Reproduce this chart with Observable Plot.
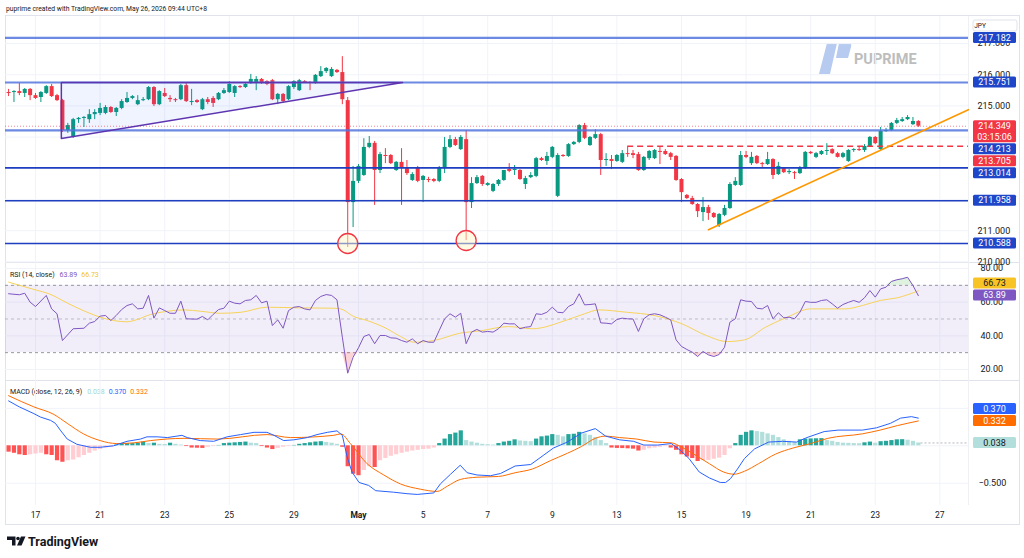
<!DOCTYPE html>
<html>
<head>
<meta charset="utf-8">
<script src="https://cdn.jsdelivr.net/npm/d3@7"></script>
<script src="https://cdn.jsdelivr.net/npm/@observablehq/plot@0.6"></script>
<style>
html,body{margin:0;padding:0;background:#fff;}
#wrap{position:relative;width:1024px;height:558px;overflow:hidden;font-family:Roboto,"Liberation Sans",Arial,sans-serif;}
</style>
</head>
<body>
<div id="wrap"></div>
<script>
// ---------------- DATA ----------------
const firstBar = -5; // bar index of the first candle (4h bars)
const open = [
215.43,215.43,215.46,215.40,215.53,215.33,215.27,215.40,215.62,215.33,
215.17,214.21,213.99,214.56,214.60,214.56,214.72,214.76,214.76,214.95,
214.79,214.92,215.11,215.24,215.04,215.17,215.20,215.59,215.04,215.40,
215.24,215.20,215.20,215.65,215.11,215.17,214.88,215.20,215.24,215.20,
215.40,215.43,215.40,215.62,215.59,215.72,215.72,215.85,215.78,215.81,
215.20,215.37,215.20,215.59,215.49,215.78,215.75,215.72,215.94,216.10,
215.94,216.14,216.07,215.17,211.90,212.58,212.77,213.67,213.80,212.93,
213.41,213.41,212.93,213.19,212.99,212.61,213.02,212.61,212.64,212.64,
212.58,212.99,213.67,213.92,213.60,213.92,211.90,212.51,212.74,212.45,
212.26,212.48,212.61,212.96,212.93,212.93,212.48,212.70,212.74,213.31,
213.22,213.35,212.10,213.41,213.38,213.76,213.83,214.37,213.73,213.96,
214.08,213.25,213.28,213.22,213.19,213.47,213.47,213.44,212.93,213.31,
213.31,213.54,213.54,213.47,213.38,212.64,212.13,212.03,211.84,211.58,
211.74,211.55,211.16,211.49,211.71,212.45,212.45,213.41,213.15,213.38,
213.15,213.12,213.28,212.80,212.99,212.86,212.86,212.83,212.99,213.51,
213.35,213.44,213.54,213.60,213.47,213.35,213.22,213.57,213.60,213.57,
213.70,213.99,213.60,214.18,214.21,214.44,214.50,214.56,214.40,214.50];
const high = [
215.53,215.49,215.72,215.56,215.56,215.40,215.46,215.65,215.69,215.37,
215.21,214.44,214.60,214.63,214.66,214.88,214.88,215.08,215.01,214.98,
214.95,215.20,215.43,215.33,215.33,215.27,215.62,215.62,215.49,215.56,
215.33,215.24,215.69,215.72,215.53,215.20,215.24,215.27,215.30,215.43,
215.56,215.78,215.65,215.65,215.72,216.01,215.94,215.88,215.81,215.85,
215.40,215.40,215.65,215.81,215.85,215.81,215.78,216.01,216.26,216.23,
216.23,216.17,216.58,215.27,213.06,213.12,213.95,214.02,213.86,213.51,
213.63,213.44,213.22,213.63,213.25,212.86,213.06,212.77,212.71,212.67,
213.06,213.99,214.05,213.99,214.05,214.21,212.70,212.77,212.77,212.54,
212.51,212.64,212.93,213.15,213.09,212.96,212.74,212.86,213.35,213.35,
213.51,213.70,213.47,213.44,213.79,213.86,214.40,214.44,214.02,214.24,
214.12,213.47,213.41,213.44,213.57,213.67,213.57,213.51,213.38,213.57,
213.60,213.67,213.60,213.51,213.41,212.67,212.16,212.10,211.87,212.06,
211.81,211.58,211.55,211.81,212.54,212.70,213.54,213.54,213.51,213.41,
213.19,213.51,213.31,213.19,213.02,212.96,212.90,213.06,213.54,213.54,
213.51,213.57,213.79,213.63,213.51,213.51,213.60,213.63,213.67,213.76,
214.02,214.02,214.31,214.28,214.47,214.60,214.63,214.69,214.63,214.53];
const low = [
215.30,215.11,215.33,215.27,215.17,215.21,215.11,215.37,215.27,215.14,
214.15,214.12,213.96,214.44,214.31,214.44,214.56,214.69,214.72,214.76,
214.66,214.88,215.08,215.20,215.01,215.14,215.17,214.98,215.01,215.27,
215.11,215.11,215.17,215.11,215.01,215.08,214.85,215.04,214.95,215.17,
215.37,215.40,215.27,215.56,215.56,215.69,215.49,215.69,215.65,215.17,
215.04,215.08,215.17,215.53,215.46,215.72,215.49,215.69,215.91,216.04,
215.91,216.04,215.04,210.46,211.10,212.51,212.74,213.63,211.81,212.83,
213.15,213.12,212.90,211.81,212.77,212.58,212.54,211.90,212.54,212.54,
212.54,212.83,213.63,213.70,213.57,210.68,211.71,212.48,212.42,212.42,
212.22,212.42,212.58,212.86,212.77,212.61,212.32,212.67,212.70,213.22,
213.09,213.31,212.06,213.35,213.35,213.73,213.79,213.92,213.70,213.92,
212.77,213.06,212.96,213.19,213.15,213.35,213.31,212.90,212.90,213.25,
213.28,213.12,213.41,213.25,212.58,211.90,212.00,211.81,211.42,211.29,
211.33,211.39,211.10,211.45,211.68,212.42,212.42,213.31,213.09,213.12,
212.99,213.09,212.64,212.77,212.83,212.80,212.64,212.80,212.96,213.44,
213.31,213.41,213.41,213.44,213.33,213.31,213.19,213.51,213.54,213.51,
213.67,213.76,213.57,214.15,214.18,214.40,214.47,214.53,214.37,214.31];
const close = [
215.40,215.46,215.40,215.53,215.33,215.24,215.43,215.62,215.30,215.17,
214.21,214.37,214.56,214.60,214.63,214.72,214.79,214.92,214.95,214.79,
214.92,215.14,215.24,215.30,215.17,215.20,215.59,215.04,215.46,215.30,
215.20,215.17,215.65,215.14,215.14,215.11,215.20,215.11,215.08,215.40,
215.49,215.69,215.62,215.59,215.69,215.85,215.85,215.72,215.69,215.20,
215.37,215.14,215.62,215.78,215.81,215.75,215.72,215.98,216.10,216.20,
216.17,216.07,215.20,211.90,212.58,213.06,213.67,213.80,212.93,213.44,
213.38,213.15,213.19,212.99,212.83,212.80,212.58,212.74,212.61,212.58,
212.99,213.67,213.92,213.73,213.99,211.90,212.51,212.70,212.48,212.51,
212.48,212.61,212.93,212.90,212.96,212.64,212.67,212.77,213.31,213.25,
213.38,213.67,213.41,213.38,213.76,213.83,214.37,213.96,213.99,214.08,
213.25,213.28,213.22,213.41,213.47,213.44,213.41,212.93,213.35,213.54,
213.57,213.51,213.44,213.35,212.61,212.22,212.03,211.84,211.61,211.74,
211.55,211.42,211.52,211.71,212.48,212.58,213.41,213.35,213.35,213.15,
213.12,213.28,212.77,213.06,212.86,212.90,212.83,212.99,213.51,213.47,
213.47,213.54,213.57,213.47,213.35,213.47,213.57,213.60,213.57,213.70,
213.99,213.79,214.18,214.21,214.44,214.53,214.56,214.63,214.50,214.349];

// x-axis: bar index where each date label sits
const tickBars   = [0,12,24,36,48,60,72,84,96,108,120,132,144,156,168];
const tickLabels = ["17","21","23","25","29","May","5","7","9","13","15","19","21","23","27"];

// drawn price levels
const levelsStrong = [217.182, 215.751, 214.213];
const levelsThin   = [213.014, 211.958, 210.588];
const lastPrice = 214.349;
const countdown = "03:15:06";
const dashedLevel = 213.705;
const dashedFromBar = 110;
const triangle = [[4.8, 215.751], [4.8, 213.955], [68.2, 215.751]];
const trendLine = [[125, 211.03], [173.3, 214.88]];
const circles = [[58, 210.588], [80, 210.684]];
const priceGrid = [210, 211, 212, 213, 214, 215, 216, 217];
const priceTickLabels = [210, 211, 215, 216, 217];

// RSI (14, close) and its moving average: [bar, value]
const rsi = [[-5,65.0],[-3,64.4],[-2,65.3],[-1,60.0],[0,57.4],[2,64.0],[3,56.0],[4,53.1],[5,37.2],[7,44.2],[9,44.5],[10,47.5],[11,48.5],[12,51.7],[13,52.1],[14,49.1],[15,52.1],[16,55.6],[17,58.0],[18,59.0],[19,56.0],[20,56.4],[21,64.0],[22,50.5],[23,56.6],[24,55.0],[25,53.4],[26,53.4],[27,60.6],[28,50.1],[29,50.0],[30,49.9],[31,51.5],[32,49.5],[33,52.7],[34,55.6],[35,56.4],[36,60.6],[37,59.4],[38,59.0],[39,61.0],[40,61.4],[41,64.0],[42,59.6],[43,60.6],[44,46.1],[45,49.5],[46,44.5],[47,55.0],[48,57.0],[49,57.4],[50,56.0],[51,55.4],[52,61.0],[53,63.4],[54,64.5],[55,64.0],[56,61.4],[57,39.2],[58,17.8],[59,27.3],[60,32.9],[61,39.6],[62,40.8],[63,35.3],[64,40.2],[65,40.2],[66,38.8],[67,38.6],[68,37.2],[69,36.2],[70,38.2],[71,35.3],[72,37.2],[73,36.2],[74,36.2],[75,43.2],[76,50.1],[77,53.1],[78,51.1],[79,53.4],[80,35.3],[81,42.2],[82,43.8],[83,42.2],[84,42.6],[85,42.2],[86,44.2],[87,47.5],[88,47.1],[89,47.1],[90,44.2],[91,45.1],[92,45.5],[93,53.1],[94,52.7],[95,54.0],[96,57.0],[97,54.0],[98,53.7],[99,57.4],[100,59.0],[101,65.0],[102,58.4],[103,58.6],[104,59.0],[105,47.7],[106,47.5],[107,47.1],[108,49.7],[109,50.5],[110,50.1],[111,50.0],[112,42.6],[113,50.1],[114,52.5],[115,53.1],[116,52.5],[117,51.1],[118,49.5],[119,37.6],[120,33.7],[121,31.9],[122,30.3],[123,27.7],[124,30.7],[125,28.7],[126,27.7],[127,28.9],[128,33.2],[129,48.1],[130,50.1],[131,61.4],[132,60.6],[133,60.4],[134,56.4],[135,56.0],[136,58.0],[137,50.1],[138,53.7],[139,50.7],[140,51.1],[141,50.1],[142,54.0],[143,60.4],[144,59.9],[145,59.9],[146,61.0],[147,61.4],[148,59.0],[149,56.4],[150,58.6],[151,59.9],[152,61.0],[153,59.9],[154,62.6],[155,66.9],[156,63.0],[157,67.9],[158,68.9],[159,72.3],[160,73.3],[161,73.9],[162,74.8],[163,69.9],[164,63.89]];
const rsiMa = [[-5,71.9],[0,67.3],[2.5,65.0],[6.2,59.0],[9.6,54.0],[12,51.1],[14.5,49.1],[17,48.3],[18.3,49.1],[21.4,52.7],[24.5,54.6],[27.6,55.4],[30.7,54.6],[34.4,53.4],[38.2,54.0],[43,57.0],[49.2,56.6],[55.4,56.4],[56.7,56.0],[59.1,51.5],[61.6,49.1],[65.3,44.2],[67.8,39.6],[70.3,36.2],[74,37.2],[78.9,41.6],[82.7,43.0],[87.8,45.5],[92.3,44.2],[98.8,49.5],[102,53.1],[104.6,55.4],[109.8,54.0],[114.9,52.1],[120.1,47.1],[124.6,40.2],[128.5,36.6],[131.7,37.6],[135.6,45.1],[139.4,50.7],[144,56.0],[150.4,56.0],[153.6,58.0],[156.9,61.0],[160.1,62.6],[164,66.73]];
const rsiLast = 63.89, rsiMaLast = 66.73;
const rsiTicks = [20, 40, 60, 80];

// MACD (close, 12, 26, 9): [bar, value]
const macdLine = [[-5,0.60],[-3,0.52],[-0.3,0.43],[0.9,0.385],[2.8,0.34],[3.7,0.30],[4.6,0.21],[5.9,0.09],[7.7,0.02],[10.2,-0.02],[12,-0.02],[14.5,0.00],[17,0.06],[19.5,0.09],[20.7,0.12],[22.6,0.12],[24.5,0.11],[26.3,0.13],[27.2,0.14],[28.2,0.11],[30.6,0.07],[33.1,0.06],[35.6,0.12],[38.1,0.15],[40.6,0.18],[43,0.18],[44.3,0.14],[46.1,0.07],[48,0.08],[50.5,0.11],[52.3,0.15],[54.2,0.18],[56,0.20],[57,0.14],[57.9,-0.15],[58.8,-0.35],[60.1,-0.49],[61.9,-0.53],[63.2,-0.60],[66.5,-0.62],[69,-0.64],[70.9,-0.65],[74,-0.63],[75.2,-0.51],[77.1,-0.38],[78.9,-0.26],[80.2,-0.36],[82,-0.39],[84.5,-0.40],[86.4,-0.37],[89.1,-0.27],[92,-0.25],[94.3,-0.13],[96.2,-0.03],[98.8,0.05],[101.4,0.17],[104,0.23],[105.9,0.13],[108.5,0.08],[111.1,0.06],[113,0.01],[115.6,0.01],[118.1,0.03],[119.8,-0.06],[121.4,-0.17],[123.3,-0.35],[125.2,-0.43],[127.2,-0.49],[128.2,-0.49],[129.1,-0.44],[130.4,-0.31],[131.7,-0.17],[133.6,-0.04],[136.2,0.05],[138.8,0.06],[141.4,0.05],[143.3,0.11],[146.5,0.19],[149.1,0.21],[153.6,0.21],[156.2,0.24],[158.8,0.30],[160.7,0.37],[162.7,0.39],[164,0.370]];
const signalLine = [[-5,0.67],[-0.3,0.52],[3.4,0.42],[5.9,0.30],[8.9,0.16],[12,0.07],[15.1,0.03],[18.3,0.04],[21.4,0.07],[27.6,0.10],[33.8,0.09],[43,0.15],[47.4,0.11],[55.4,0.14],[56.7,0.16],[58.5,0.03],[61.6,-0.24],[64.7,-0.39],[67.8,-0.51],[71.5,-0.58],[74.6,-0.61],[76.5,-0.54],[78.9,-0.45],[82,-0.42],[86,-0.41],[89.1,-0.36],[92.3,-0.31],[95.6,-0.20],[98.8,-0.10],[101.4,-0.01],[104,0.10],[105.9,0.13],[108.5,0.11],[111.7,0.09],[114.9,0.05],[118.1,0.04],[120.1,-0.02],[122.7,-0.13],[125.2,-0.24],[127.8,-0.35],[129.8,-0.38],[131.7,-0.34],[134.3,-0.24],[137.5,-0.11],[140.7,-0.03],[144,0.03],[147.2,0.10],[153.6,0.16],[156.9,0.21],[160.1,0.27],[164,0.332]];
const histogram = [
-0.085,-0.10,-0.12,-0.13,-0.12,-0.11,-0.10,-0.12,-0.13,-0.20,-0.22,-0.20,-0.19,-0.16,-0.13,-0.10,-0.07,-0.05,-0.03,-0.02,
0.01,0.03,0.03,0.03,0.035,0.05,0.03,0.035,0.02,0.018,0.035,0.02,0.01,
-0.01,-0.03,-0.032,-0.035,-0.02,-0.01,
0.005,0.03,0.035,0.04,0.045,0.05,0.035,0.03,
-0.01,-0.03,-0.05,-0.035,-0.02,-0.01,
0.005,0.02,0.03,0.04,0.05,0.055,0.045,0.035,0.02,
-0.02,-0.28,-0.38,-0.40,-0.33,-0.28,-0.29,-0.20,-0.17,-0.14,-0.12,-0.10,-0.085,-0.07,-0.06,-0.05,-0.045,-0.03,
0.03,0.09,0.15,0.17,0.20,0.07,0.05,0.035,0.02,0.015,0.01,0.03,
0.05,0.06,0.08,0.065,0.06,0.055,0.09,0.12,0.13,0.15,0.14,0.12,0.15,0.155,0.18,0.16,0.14,0.11,0.07,0.03,
-0.03,-0.035,-0.037,-0.04,-0.045,-0.07,-0.06,-0.04,-0.03,-0.02,-0.01,
-0.03,-0.06,-0.12,-0.15,-0.17,-0.21,-0.20,-0.195,-0.18,-0.165,-0.13,-0.04,
0.03,0.14,0.18,0.20,0.19,0.18,0.16,0.14,0.11,0.08,0.06,0.045,0.08,0.09,0.092,0.094,0.096,0.07,0.06,0.045,0.035,0.033,0.03,0.028,0.04,0.05,0.035,0.055,0.06,0.07,0.08,0.082,0.075,0.06,0.038];
const macdLast = 0.370, signalLast = 0.332, histLast = 0.038;
const macdGrid = [-0.5, 0, 0.5];
const macdTickLabels = [-0.5];

// ---------------- LAYOUT / STYLE ----------------
const W = 1015, MR = 52, LEFT = 5;
const xDom = [-5.573, 173.32];
const UP = "#089981", DOWN = "#f23645";
const GRID = "#f0f3fa";
const TXT = "#131722";
const FONT = 'Roboto, "Liberation Sans", Arial, sans-serif';

const candles = open.map((o, k) => ({i: firstBar + k, o, h: high[k], l: low[k], c: close[k]}));
const hist = histogram.map((v, k) => {
  const prev = k > 0 ? histogram[k - 1] : null;
  let col;
  if (v >= 0) col = (prev !== null && v < prev) ? "#b2dfdb" : "#26a69a";
  else col = (prev !== null && v > prev) ? "#ffcdd2" : "#ff5252";
  return {i: firstBar + k, v, col};
});

const wrap = d3.select("#wrap");

// background overlay (frame, watermark, header, legends, logo)
const back = wrap.append("svg").attr("width", 1024).attr("height", 558)
  .style("position", "absolute").style("left", "0px").style("top", "0px")
  .style("font-family", FONT);
back.append("rect").attr("x", 5.5).attr("y", 15.5).attr("width", 1014).attr("height", 509)
  .attr("fill", "none").attr("stroke", "#e0e3eb");
[262.5, 380.5].forEach(y => back.append("line").attr("x1", 5).attr("x2", 1020).attr("y1", y).attr("y2", y).attr("stroke", "#e0e3eb"));
back.append("line").attr("x1", 968.5).attr("x2", 968.5).attr("y1", 16).attr("y2", 505).attr("stroke", "#eef0f4");
back.append("text").attr("x", 6).attr("y", 10.5).attr("font-size", 7).attr("fill", TXT)
  .attr("textLength", 201).attr("lengthAdjust", "spacingAndGlyphs")
  .text("puprime created with TradingView.com, May 26, 2026 09:44 UTC+8");
// PUPRIME watermark
back.append("path").attr("d", "M827 43 L837 43 L830 74 L819 74 Z").attr("fill", "#b6cbef");
back.append("path").attr("d", "M839 43 L849 43 Q852 43 851 47 L848 58 L836 58 Z").attr("fill", "#b6cbef");
back.append("text").attr("x", 854).attr("y", 63.5).attr("font-size", 14.5).attr("font-weight", "bold")
  .attr("fill", "#bdbdbd").text("PUPRIME");
// TradingView logo
const lg = back.append("g").attr("fill", TXT);
lg.append("path").attr("d", "M7 536.5 H15.5 V545.5 H12 V540 H7 Z");
lg.append("circle").attr("cx", 18).attr("cy", 538.5).attr("r", 1.8);
lg.append("path").attr("d", "M21 536.5 H25.5 L21.5 545.5 H17 Z");
back.append("text").attr("x", 28).attr("y", 545.5).attr("font-size", 12.5).attr("font-weight", "bold")
  .attr("fill", TXT).text("TradingView");
// legends
const rl = back.append("text").attr("x", 10).attr("y", 276.5).attr("font-size", 7);
rl.append("tspan").attr("fill", TXT).text("RSI (14, close)");
rl.append("tspan").attr("dx", 5).attr("fill", "#7e57c2").text(rsiLast.toFixed(2));
rl.append("tspan").attr("dx", 4).attr("fill", "#f0c419").text(rsiMaLast.toFixed(2));
const ml = back.append("text").attr("x", 10).attr("y", 394).attr("font-size", 7);
ml.append("tspan").attr("fill", TXT).text("MACD (close, 12, 26, 9)");
ml.append("tspan").attr("dx", 5).attr("fill", "#9fd6cf").text(histLast.toFixed(3));
ml.append("tspan").attr("dx", 4).attr("fill", "#2962ff").text(macdLast.toFixed(3));
ml.append("tspan").attr("dx", 4).attr("fill", "#ff6d00").text(signalLast.toFixed(3));

function place(svg, top) {
  svg.style.position = "absolute";
  svg.style.left = LEFT + "px";
  svg.style.top = top + "px";
  svg.style.overflow = "visible";
  svg.style.background = "transparent";
  wrap.node().appendChild(svg);
}

// right-side value labels, stacked away from the primary one
function labels(svg, yScale, items, primary) {
  const H = 11, GAP = 1;
  items.forEach(d => { d.c = yScale.apply(d.v); d.h = d.sub ? 22 : H; d.top = d.c - H / 2; });
  const p = items[primary];
  const below = items.filter(d => d !== p && d.c >= p.c).sort((a, b) => a.c - b.c);
  const above = items.filter(d => d !== p && d.c < p.c).sort((a, b) => b.c - a.c);
  let edge = p.top + p.h + GAP;
  below.forEach(d => { d.top = Math.max(d.top, edge); edge = d.top + d.h + GAP; });
  edge = p.top - GAP;
  above.forEach(d => { if (d.top + d.h > edge) d.top = edge - d.h; edge = d.top - GAP; });
  const g = d3.select(svg).append("g").attr("font-family", FONT).attr("font-size", 9).attr("text-anchor", "middle");
  const x0 = W - MR + 5;
  items.forEach(d => {
    g.append("rect").attr("x", x0).attr("y", d.top).attr("width", 43).attr("height", d.h).attr("rx", 1.5).attr("fill", d.bg);
    g.append("text").attr("x", x0 + 21.5).attr("y", d.top + H / 2).attr("dy", "0.35em").attr("fill", d.fg).text(d.text);
    if (d.sub) g.append("text").attr("x", x0 + 21.5).attr("y", d.top + H / 2 + 11).attr("dy", "0.35em").attr("fill", d.fg).text(d.sub);
  });
}

// ---------------- PRICE PANE ----------------
const [tA, tB, tC] = triangle;
const price = Plot.plot({
  width: W, height: 246, marginLeft: 0, marginRight: MR, marginTop: 0, marginBottom: 0,
  style: {fontFamily: FONT, fontSize: "9px", color: TXT, background: "transparent"},
  x: {domain: xDom, axis: null},
  y: {domain: [209.979, 217.868], axis: null},
  marks: [
    Plot.gridX(tickBars, {stroke: GRID, strokeOpacity: 1}),
    Plot.gridY(priceGrid, {stroke: GRID, strokeOpacity: 1}),
    Plot.axisY(priceTickLabels, {anchor: "right", tickSize: 0, tickPadding: 9, fontSize: 9, fill: TXT,
      label: null, tickFormat: d => d.toFixed(3)}),
    Plot.ruleX(candles, {x: "i", y1: "l", y2: "h", stroke: d => d.c >= d.o ? UP : DOWN, strokeWidth: 1}),
    Plot.ruleX(candles, {x: "i",
      y1: d => Math.abs(d.c - d.o) < 0.032 ? (d.c + d.o) / 2 - 0.016 : d.o,
      y2: d => Math.abs(d.c - d.o) < 0.032 ? (d.c + d.o) / 2 + 0.016 : d.c,
      stroke: d => d.c >= d.o ? UP : DOWN, strokeWidth: 4}),
    Plot.areaY([[tA[0], tB[1], tA[1]], [tC[0], tC[1], tC[1]]], {x: d => d[0], y1: d => d[1], y2: d => d[2],
      fill: "#2962ff", fillOpacity: 0.07}),
    Plot.ruleY(levelsStrong, {stroke: "#5274de", strokeWidth: 2.2, strokeOpacity: 0.85}),
    Plot.ruleY(levelsThin, {stroke: "#1d3fc0", strokeWidth: 1.6}),
    Plot.ruleY([lastPrice], {stroke: DOWN, strokeDasharray: "1,2", strokeOpacity: 0.6}),
    Plot.ruleY([dashedLevel], {x1: () => dashedFromBar, x2: () => xDom[1], stroke: DOWN,
      strokeDasharray: "6,4", strokeWidth: 1.4}),
    Plot.line([tA, tB, tC, tA], {x: d => d[0], y: d => d[1], stroke: "#5e35b1", strokeWidth: 1.5}),
    Plot.line(trendLine, {x: d => d[0], y: d => d[1], stroke: "#ff9800", strokeWidth: 1.6}),
    Plot.dot(circles, {x: d => d[0], y: d => d[1], r: 10, stroke: "#f23645", strokeWidth: 1.3,
      fill: "#fff6c8", fillOpacity: 0.5})
  ]
});
place(price, 16);
labels(price, price.scale("y"), [
  {v: levelsStrong[0], text: levelsStrong[0].toFixed(3), bg: "#1f45c9", fg: "#fff"},
  {v: levelsStrong[1], text: levelsStrong[1].toFixed(3), bg: "#1f45c9", fg: "#fff"},
  {v: lastPrice, text: lastPrice.toFixed(3), sub: countdown, bg: "#f23645", fg: "#fff"},
  {v: levelsStrong[2], text: levelsStrong[2].toFixed(3), bg: "#1f45c9", fg: "#fff"},
  {v: dashedLevel, text: dashedLevel.toFixed(3), bg: "#f23645", fg: "#fff"},
  {v: levelsThin[0], text: levelsThin[0].toFixed(3), bg: "#1f45c9", fg: "#fff"},
  {v: levelsThin[1], text: levelsThin[1].toFixed(3), bg: "#1f45c9", fg: "#fff"},
  {v: levelsThin[2], text: levelsThin[2].toFixed(3), bg: "#1f45c9", fg: "#fff"}
], 2);
// currency box
const cg = d3.select(price).append("g");
cg.append("rect").attr("x", W - MR + 5).attr("y", 4).attr("width", 44).attr("height", 11).attr("rx", 2)
  .attr("fill", "#fff").attr("stroke", "#e0e3eb");
cg.append("text").attr("x", W - MR + 12).attr("y", 9.5).attr("dy", "0.35em").attr("font-size", 6.5)
  .attr("font-family", FONT).attr("fill", TXT).text("JPY");

// ---------------- RSI PANE ----------------
const rsiChart = Plot.plot({
  width: W, height: 118, marginLeft: 0, marginRight: MR, marginTop: 0, marginBottom: 0,
  style: {fontFamily: FONT, fontSize: "9px", color: TXT, background: "transparent"},
  x: {domain: xDom, axis: null},
  y: {domain: [13.45, 83.57], axis: null},
  marks: [
    Plot.gridX(tickBars, {stroke: GRID, strokeOpacity: 1}),
    Plot.gridY(rsiTicks, {stroke: GRID, strokeOpacity: 1}),
    Plot.axisY(rsiTicks, {anchor: "right", tickSize: 0, tickPadding: 12, fontSize: 9, fill: TXT,
      label: null, tickFormat: d => d.toFixed(2)}),
    Plot.rect([0], {x1: () => xDom[0], x2: () => xDom[1], y1: () => 30, y2: () => 70,
      fill: "#7e57c2", fillOpacity: 0.1}),
    Plot.ruleY([70, 30], {stroke: "#9598a1", strokeDasharray: "3,3"}),
    Plot.ruleY([50], {stroke: "#9598a1", strokeDasharray: "3,3", strokeOpacity: 0.6}),
    Plot.areaY(rsi, {x: d => d[0], y1: () => 70, y2: d => Math.max(d[1], 70), fill: "#4caf50", fillOpacity: 0.18}),
    Plot.areaY(rsi, {x: d => d[0], y1: () => 30, y2: d => Math.min(d[1], 30), fill: "#f23645", fillOpacity: 0.22}),
    Plot.line(rsiMa, {x: d => d[0], y: d => d[1], stroke: "#f7d35a", strokeWidth: 1, curve: "monotone-x"}),
    Plot.line(rsi, {x: d => d[0], y: d => d[1], stroke: "#7e57c2", strokeWidth: 1})
  ]
});
place(rsiChart, 262);
labels(rsiChart, rsiChart.scale("y"), [
  {v: rsiMaLast, text: rsiMaLast.toFixed(2), bg: "#f7c325", fg: TXT},
  {v: rsiLast, text: rsiLast.toFixed(2), bg: "#7e57c2", fg: "#fff"}
], 1);

// ---------------- MACD PANE ----------------
const macdChart = Plot.plot({
  width: W, height: 145, marginLeft: 0, marginRight: MR, marginTop: 0, marginBottom: 20,
  style: {fontFamily: FONT, fontSize: "9px", color: TXT, background: "transparent"},
  x: {domain: xDom, label: null},
  y: {domain: [-0.798, 0.873], axis: null, label: null},
  marks: [
    Plot.gridX(tickBars, {stroke: GRID, strokeOpacity: 1}),
    Plot.gridY(macdGrid, {stroke: GRID, strokeOpacity: 1}),
    Plot.axisY(macdTickLabels, {anchor: "right", tickSize: 0, tickPadding: 10, fontSize: 9, fill: TXT,
      label: null, tickFormat: d => (d < 0 ? "\u2212" : "") + Math.abs(d).toFixed(3)}),
    Plot.axisX(tickBars, {tickSize: 0, tickPadding: 6, fontSize: 8.5, fill: TXT, label: null,
      tickFormat: d => tickLabels[tickBars.indexOf(d)]}),
    Plot.ruleX(hist, {x: "i", y1: () => 0, y2: "v", stroke: "col", strokeWidth: 4.2}),
    Plot.ruleY([histLast], {x1: () => 164.5, x2: () => xDom[1], stroke: "#9598a1",
      strokeDasharray: "2,2", strokeOpacity: 0.7}),
    Plot.line(signalLine, {x: d => d[0], y: d => d[1], stroke: "#ff6d00", strokeWidth: 1, curve: "monotone-x"}),
    Plot.line(macdLine, {x: d => d[0], y: d => d[1], stroke: "#2962ff", strokeWidth: 1})
  ]
});
place(macdChart, 380);
d3.select(macdChart).selectAll("text").filter(function () { return this.textContent === "May"; })
  .attr("font-weight", "bold");
labels(macdChart, macdChart.scale("y"), [
  {v: macdLast, text: macdLast.toFixed(3), bg: "#2962ff", fg: "#fff"},
  {v: signalLast, text: signalLast.toFixed(3), bg: "#ff6d00", fg: "#fff"},
  {v: histLast, text: histLast.toFixed(3), bg: "#b2dfdb", fg: TXT}
], 1);
</script>
</body>
</html>
